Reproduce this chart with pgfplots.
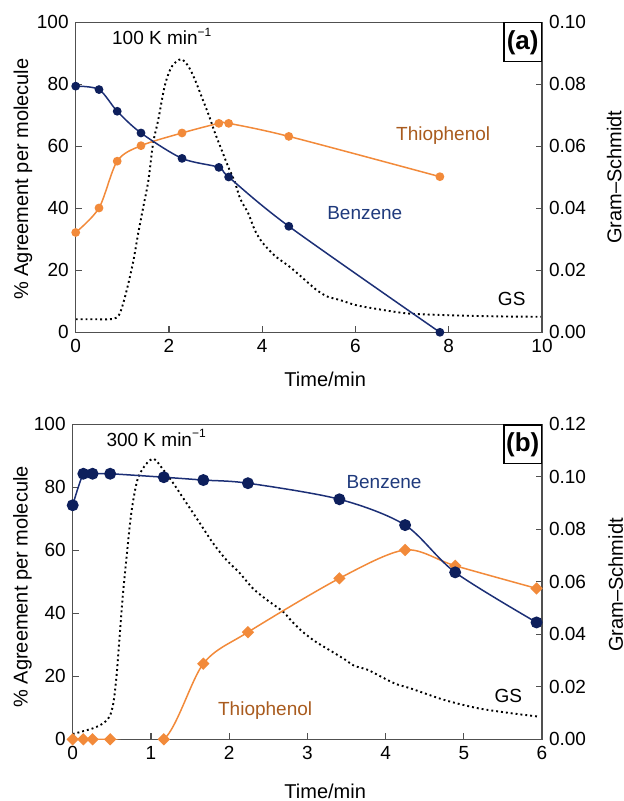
\documentclass[border=0pt]{standalone}
\usepackage{pgfplots}
\pgfplotsset{compat=1.18}
\usepackage{fontspec}
\setmainfont{Liberation Sans}

\definecolor{navy}{HTML}{0D1F5C}
\definecolor{navyline}{HTML}{1C2F76}
\definecolor{orng}{HTML}{F28A3A}
\definecolor{orngtext}{HTML}{A95B1E}
\definecolor{navytext}{HTML}{1F3A7C}
\definecolor{framegray}{HTML}{505050}

\newcommand{\permin}{min\raisebox{0.45em}{\fontsize{6}{7}\selectfont\char"2212 1}}

\pgfplotsset{
  panel/.style={
    scale only axis,
    axis line style={framegray, line width=0.7pt},
    tick style={framegray, line width=0.6pt},
    major tick length=3pt,
    tick align=inside,
    tick label style={font=\fontsize{9.5}{11}\selectfont},
    label style={font=\fontsize{10}{12}\selectfont},
    /pgf/number format/assume math mode=true,
  },
  gs/.style={black, line width=0.95pt, dash pattern=on 0.95pt off 1.5pt, smooth, no markers},
  bz/.style={navyline, line width=0.75pt, smooth, mark=*, mark options={navy, fill=navy, solid}},
  th/.style={orng, line width=0.75pt, smooth, mark=*, mark options={orng, fill=orng, solid}},
}
\tikzset{
  lbl/.style={font=\fontsize{9.5}{11}\selectfont},
  tag/.style={draw=black, line width=0.6pt, fill=white, anchor=north east, minimum width=18.7pt,
    minimum height=19.4pt, inner sep=0pt, font=\fontsize{13}{15}\selectfont\bfseries},
}

% Gram-Schmidt reconstruction, panel (a)
\pgfplotstableread{
t gs
0 0.0042
0.4 0.0042
0.8 0.0043
0.93 0.0056
1.02 0.0094
1.13 0.0158
1.24 0.0233
1.34 0.0319
1.45 0.0405
1.56 0.0491
1.66 0.0610
1.77 0.0685
1.91 0.0795
2.06 0.0857
2.26 0.0881
2.42 0.0857
2.56 0.0814
2.70 0.0760
2.84 0.0706
2.99 0.0642
3.13 0.0588
3.27 0.0534
3.41 0.0486
3.53 0.0430
3.70 0.0384
3.84 0.0330
3.99 0.0292
4.13 0.0268
4.30 0.0243
4.60 0.0210
4.96 0.0163
5.17 0.0136
5.40 0.0115
5.67 0.0104
6.00 0.0088
6.39 0.0077
7.10 0.0061
7.82 0.0056
8.50 0.0053
9.20 0.0051
10.0 0.0050
}\gsA

% Gram-Schmidt reconstruction, panel (b)
\pgfplotstableread{
t gs
0 0.0020
0.26 0.0042
0.39 0.0061
0.47 0.0086
0.52 0.0138
0.56 0.0240
0.60 0.0392
0.64 0.0545
0.69 0.0698
0.75 0.0864
0.83 0.0991
0.94 0.1049
1.04 0.1068
1.15 0.1030
1.28 0.0978
1.45 0.0902
1.62 0.0826
1.79 0.0749
1.96 0.0685
2.13 0.0635
2.30 0.0576
2.47 0.0534
2.69 0.0486
2.80 0.0450
2.93 0.0412
3.10 0.0373
3.31 0.0335
3.48 0.0304
3.60 0.0280
3.77 0.0265
3.94 0.0239
4.13 0.0211
4.32 0.0194
4.75 0.0150
5.17 0.0119
5.59 0.0100
5.97 0.0086
}\gsB

\begin{document}
\begin{tikzpicture}
\useasboundingbox (0,0) rectangle (312pt,-400.5pt);

% ---------------- panel (a): 100 K/min ----------------
\begin{axis}[panel, at={(37.85pt,-166.15pt)}, anchor=south west,
  width=233.15pt, height=155pt,
  xmin=0, xmax=10, ymin=0, ymax=0.10,
  axis x line=none, axis y line*=right,
  ytick={0,0.02,0.04,0.06,0.08,0.10},
  yticklabel style={/pgf/number format/.cd, fixed, fixed zerofill, precision=2},
  ylabel={Gram–Schmidt},
  ylabel style={at={(axis description cs:1.155,0.5)}, anchor=center}]
\addplot[gs] table[x=t, y=gs] {\gsA};
\end{axis}

\begin{axis}[panel, at={(37.85pt,-166.15pt)}, anchor=south west,
  width=233.15pt, height=155pt,
  xmin=0, xmax=10, ymin=0, ymax=100,
  xtick={0,2,4,6,8,10}, ytick={0,20,40,60,80,100},
  xtick pos=left, ytick pos=left,
  xlabel={Time/min}, ylabel={\% Agreement per molecule},
  xlabel style={at={(axis description cs:0.535,-0.152)}, anchor=center},
  ylabel style={at={(axis description cs:-0.113,0.494)}, anchor=center}]
\addplot[th, mark size=1.8pt] coordinates {
  (0,32.2) (0.5,40.1) (0.89,55.2) (1.4,60.2) (2.28,64.3) (3.07,67.4) (3.28,67.4) (4.57,63.2) (7.81,50.2)};
\addplot[bz, mark size=1.8pt] coordinates {
  (0,79.4) (0.5,78.3) (0.89,71.3) (1.4,64.3) (2.28,56.1) (3.07,53.2) (3.28,50.1) (4.57,34.2) (7.81,0)};
\node[lbl, text=orngtext] at (axis cs:7.88,63.6) {Thiophenol};
\node[lbl, text=navytext] at (axis cs:6.20,38.5) {Benzene};
\node[lbl] at (axis cs:9.35,10.6) {GS};
\node[lbl, anchor=west] at (rel axis cs:0.063,0.955) {100 K \permin};
\node[tag] at (rel axis cs:1,1) {(a)};
\end{axis}

% ---------------- panel (b): 300 K/min ----------------
\begin{axis}[panel, at={(36.35pt,-369.65pt)}, anchor=south west,
  width=234.65pt, height=157.5pt,
  xmin=0, xmax=6, ymin=0, ymax=0.12,
  axis x line=none, axis y line*=right,
  ytick={0,0.02,0.04,0.06,0.08,0.10,0.12},
  yticklabel style={/pgf/number format/.cd, fixed, fixed zerofill, precision=2},
  ylabel={Gram–Schmidt},
  ylabel style={at={(axis description cs:1.157,0.49)}, anchor=center}]
\addplot[gs] table[x=t, y=gs] {\gsB};
\end{axis}

\begin{axis}[panel, at={(36.35pt,-369.65pt)}, anchor=south west,
  width=234.65pt, height=157.5pt,
  xmin=0, xmax=6, ymin=0, ymax=100,
  xtick={0,1,2,3,4,5,6}, ytick={0,20,40,60,80,100},
  xtick pos=left, ytick pos=left,
  xlabel={Time/min}, ylabel={\% Agreement per molecule},
  xlabel style={at={(axis description cs:0.538,-0.164)}, anchor=center},
  ylabel style={at={(axis description cs:-0.107,0.484)}, anchor=center}]
\addplot[th, mark=square*, mark size=1.8pt, mark options={rotate=45, orng, fill=orng}] coordinates {
  (0,0) (0.136,0) (0.254,0) (0.479,0) (1.165,0) (1.67,24.0) (2.24,34.0) (3.41,51.1) (4.25,60.1) (4.89,55.1) (5.93,47.9)};
\addplot[bz, mark size=2.6pt] coordinates {
  (0,74.3) (0.136,84.3) (0.254,84.3) (0.479,84.3) (1.165,83.2) (1.67,82.3) (2.24,81.3) (3.41,76.2) (4.25,68.0) (4.89,53.0) (5.93,37.1)};
\node[lbl, text=navytext] at (axis cs:3.98,81.8) {Benzene};
\node[lbl, text=orngtext] at (axis cs:2.46,9.0) {Thiophenol};
\node[lbl] at (axis cs:5.57,13.7) {GS};
\node[lbl, anchor=west] at (rel axis cs:0.057,0.956) {300 K \permin};
\node[tag] at (rel axis cs:1,1) {(b)};
\end{axis}
\end{tikzpicture}
\end{document}
